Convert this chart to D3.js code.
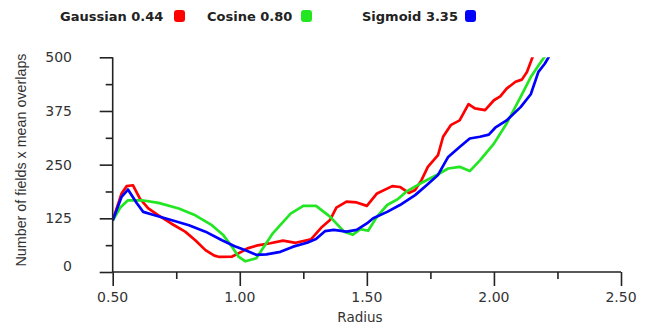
<!DOCTYPE html>
<html><head><meta charset="utf-8">
<script src="https://cdn.jsdelivr.net/npm/d3@7"></script>
<style>body{margin:0;background:#fff}svg{display:block}</style>
</head><body>
<script>
// ---- data ----
const gaussianR = [0.50,0.535,0.555,0.58,0.607,0.64,0.68,0.73,0.785,0.825,0.865,0.90,0.92,0.97,1.01,1.03,1.07,1.12,1.17,1.22,1.28,1.32,1.355,1.38,1.42,1.46,1.50,1.54,1.60,1.63,1.665,1.69,1.715,1.74,1.78,1.80,1.83,1.865,1.90,1.925,1.965,2.00,2.025,2.05,2.085,2.11,2.13,2.15,2.16];
const gaussianV = [120,183,200,202,171,148,132,113,94,74,51,38,35,36,48,55,62,67,73,68,76,103,121,150,164,162,154,183,200,198,184,191,214,245,272,315,342,353,391,381,377,400,409,427,443,448,466,497,515];
const cosineR = [0.50,0.53,0.56,0.615,0.68,0.76,0.825,0.89,0.935,0.968,0.995,1.022,1.065,1.13,1.20,1.25,1.30,1.355,1.41,1.445,1.475,1.505,1.54,1.58,1.62,1.655,1.71,1.775,1.82,1.865,1.905,1.945,2.00,2.05,2.105,2.145,2.18,2.21];
const cosineV = [120,150,167,167,161,148,132,109,86,60,36,25,32,90,136,154,154,129,94,87,100,96,129,156,169,187,206,226,241,245,235,260,299,346,408,454,485,510];
const sigmoidR = [0.50,0.535,0.56,0.595,0.62,0.665,0.73,0.80,0.865,0.93,0.98,1.02,1.065,1.105,1.16,1.21,1.265,1.30,1.335,1.37,1.42,1.46,1.50,1.525,1.58,1.63,1.69,1.735,1.78,1.82,1.865,1.905,1.945,1.98,2.005,2.05,2.105,2.145,2.175,2.20,2.215,2.225];
const sigmoidV = [120,175,192,160,140,132,121,109,94,74,60,51,40,41,47,59,68,77,95,98,94,98,113,125,140,156,179,202,226,268,291,311,315,320,336,353,384,414,466,485,500,510];
const seriesNames = ["Gaussian 0.44","Cosine 0.80","Sigmoid 3.35"];
const seriesColors = ["#ff0000","#22e622","#0000ff"];
const xTicks = [0.5,1.0,1.5,2.0,2.5];
const yTicks = [0,125,250,375,500];
const xLabel = "Radius";
const yLabel = "Number of fields x mean overlaps";

const W=647,H=326;
const svg=d3.select("body").append("svg").attr("width",W).attr("height",H);
const x=d3.scaleLinear().domain([0.5,2.5]).range([112.7,621]);
const y=d3.scaleLinear().domain([0,500]).range([272,57.3]);

svg.append("defs").append("clipPath").attr("id","clip")
  .append("rect").attr("x",x(0.5)).attr("y",y(500)).attr("width",x(2.5)-x(0.5)).attr("height",y(0)-y(500));

const series=[[gaussianR,gaussianV],[cosineR,cosineV],[sigmoidR,sigmoidV]];
const line=d3.line().x(d=>x(d[0])).y(d=>y(d[1]));
const g=svg.append("g").attr("clip-path","url(#clip)");
series.forEach((s,i)=>{
  const pts=s[0].map((r,j)=>[r,s[1][j]]);
  g.append("path").datum(pts).attr("d",line).attr("fill","none")
   .attr("stroke",seriesColors[i]).attr("stroke-width",2.7).attr("stroke-linejoin","round");
});

// axes
const axisColor="#222";
const xAxis=svg.append("g").attr("transform",`translate(0,${y(0)})`)
  .call(d3.axisBottom(x).tickValues(d3.range(0.5,2.51,0.25)).tickSize(14).tickFormat(""));
xAxis.selectAll(".tick line").attr("y2",(d,i)=>i%2?7:14);
const yAxis=svg.append("g").attr("transform",`translate(${x(0.5)},0)`)
  .call(d3.axisLeft(y).tickValues(d3.range(0,501,62.5)).tickSize(13).tickFormat(""));
yAxis.selectAll(".tick line").attr("x2",(d,i)=>i%2?-7:-13);
[xAxis,yAxis].forEach(a=>{
  a.selectAll(".tick line").attr("stroke",axisColor).attr("stroke-width",1.6);
  a.select(".domain").remove();
});
svg.append("line").attr("x1",x(0.5)).attr("x2",x(2.5)).attr("y1",y(0)).attr("y2",y(0)).attr("stroke",axisColor).attr("stroke-width",1.6);
svg.append("line").attr("x1",x(0.5)).attr("x2",x(0.5)).attr("y1",y(0)).attr("y2",y(500)).attr("stroke",axisColor).attr("stroke-width",1.6);

const tickFont="'DejaVu Sans', sans-serif";
svg.selectAll(".xt").data(xTicks).enter().append("text")
  .attr("x",d=>x(d)).attr("y",302).attr("text-anchor","middle")
  .attr("font-family",tickFont).attr("font-size",14).attr("fill","#333").text(d=>d.toFixed(2));
svg.selectAll(".yt").data(yTicks).enter().append("text")
  .attr("x",72).attr("y",d=>y(d)+5-(d===0?6:0)).attr("text-anchor","end")
  .attr("font-family",tickFont).attr("font-size",14).attr("fill","#333").text(d=>d);

svg.append("text").attr("x",360).attr("y",322).attr("text-anchor","middle")
  .attr("font-family",tickFont).attr("font-size",13.5).attr("fill","#333").text(xLabel);
svg.append("text").attr("transform","translate(26,160) rotate(-90)").attr("text-anchor","middle")
  .attr("font-family","'Liberation Sans', Arial, sans-serif").attr("font-size",14.3).attr("fill","#333").text(yLabel);

// legend
const legX=[60,207,362], mkX=[174,301,465];
seriesNames.forEach((n,i)=>{
  svg.append("text").attr("x",legX[i]).attr("y",21).attr("font-family",tickFont)
    .attr("font-weight","bold").attr("font-size",13).attr("fill","#222").text(n);
  svg.append("rect").attr("x",mkX[i]).attr("y",10).attr("width",11).attr("height",12)
    .attr("rx",3).attr("fill",seriesColors[i]);
});
</script>
</body></html>
